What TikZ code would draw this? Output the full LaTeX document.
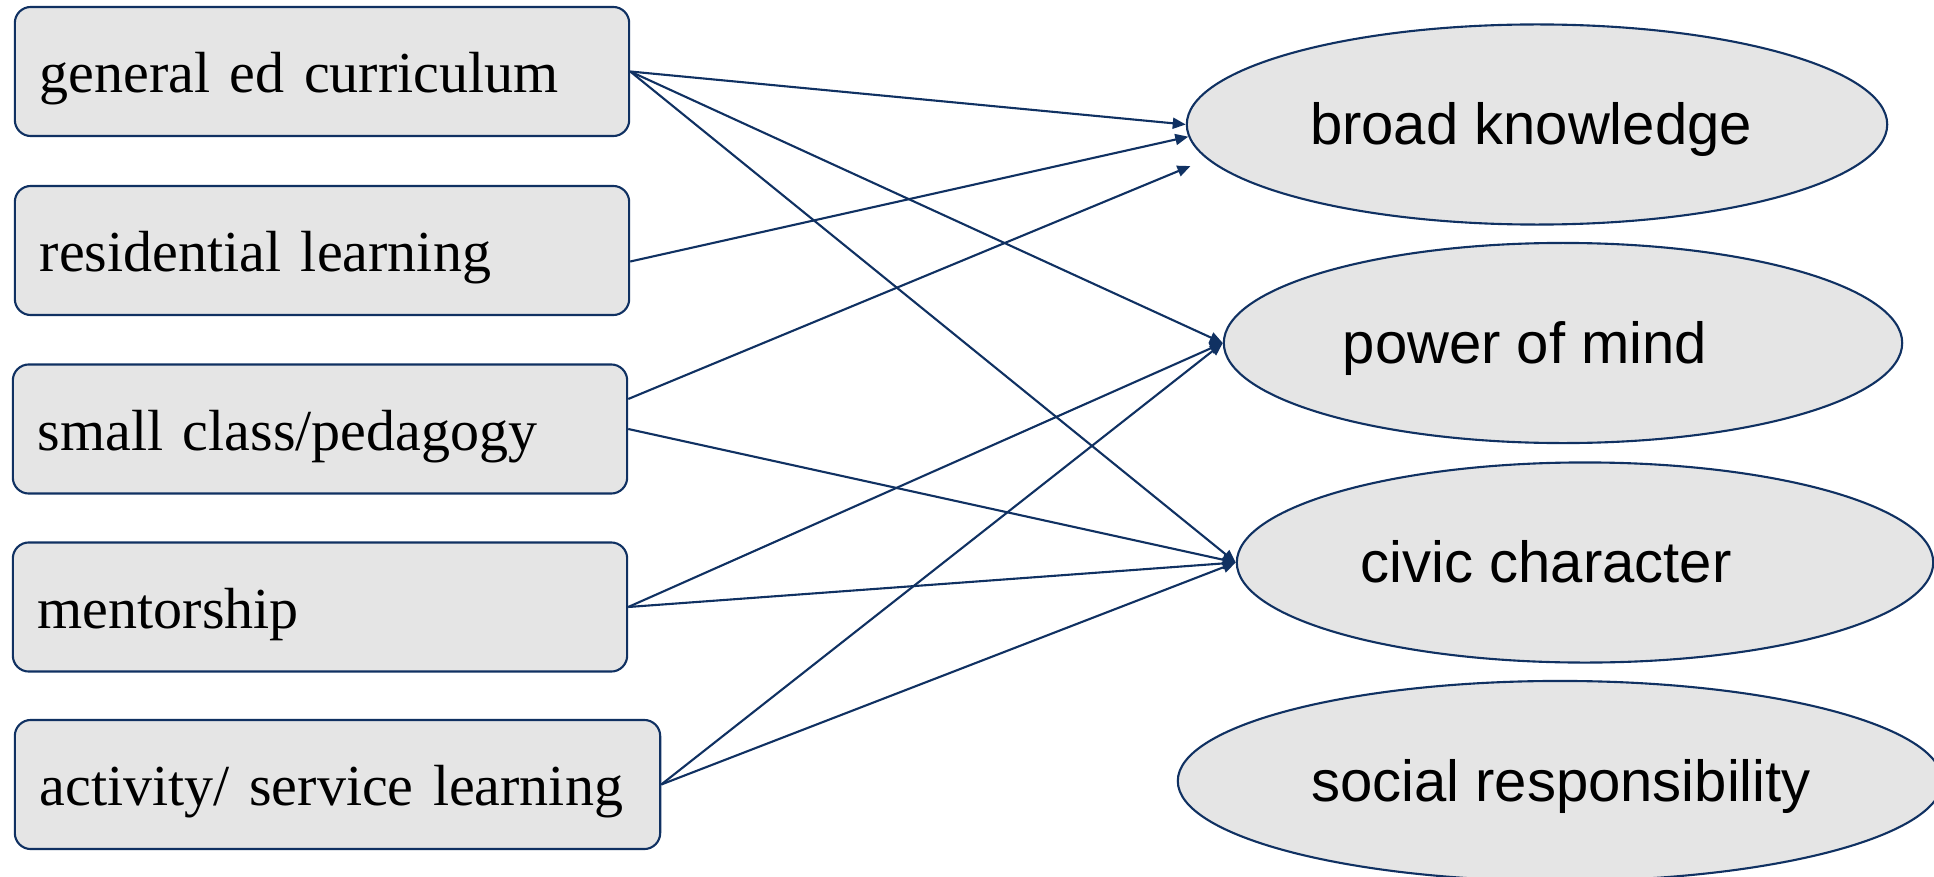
\documentclass[tikz,border=0pt]{standalone}
\usepackage{fontspec}
\setmainfont{Liberation Serif}
\setsansfont{Liberation Sans}
\usetikzlibrary{shapes.geometric,arrows.meta}

\definecolor{navy}{RGB}{16,49,98}
\definecolor{boxgray}{RGB}{229,229,229}

\tikzset{
  srcbox/.style={draw=navy, fill=boxgray, line width=0.6pt, rounded corners=0.16cm,
    minimum height=1.29cm, inner xsep=0.25cm, text width=5.64cm, align=left,
    text height=0.55cm, text depth=0.13cm, font=\fontsize{16.5}{20}\selectfont},
  goal/.style={draw=navy, fill=boxgray, line width=0.6pt, ellipse, inner sep=0pt,
    minimum height=2cm},
  goaltext/.style={inner sep=0pt, text height=0.55cm, text depth=0.15cm,
    font=\sffamily\fontsize{16.5}{20}\selectfont},
  link/.style={draw=navy, line width=0.6pt, -{Triangle[length=1.3mm,width=1.1mm]}}
}

\begin{document}
\begin{tikzpicture}[x=0.01cm, y=-0.01cm]
\clip (0,0) rectangle (1934,876);

% what the college does
\node[srcbox] (gen) at (322,71.5) {general ed curriculum};
\node[srcbox] (res) at (322,250.5) {residential learning};
\node[srcbox] (small) at (320,429) {small class/pedagogy};
\node[srcbox] (ment) at (320,607) {mentorship};
\node[srcbox, text width=5.95cm] (act) at (337.5,784.5) {activity/ service learning};

% what it aims at
\node[goal, minimum width=7cm] (bk) at (1537,124.5) {};
\node[goal, minimum width=6.78cm] (pm) at (1563,343) {};
\node[goal, minimum width=6.96cm] (cc) at (1585,562.5) {};
\node[goal, minimum width=7.64cm] (sr) at (1560,781) {};

\node[goaltext] (bktxt) at (1531,124.5) {broad knowledge};
\node[goaltext] (pmtxt) at (1525,343) {power of mind};
\node[goaltext] (cctxt) at (1546,562.5) {civic character};
\node[goaltext] (srtxt) at (1561,781) {social responsibility};

% links
\draw[link] (gen.east) -- (bk.west);
\draw[link] (gen.east) -- (pm.west);
\draw[link] (gen.east) -- (cc.west);
\draw[link] ([yshift=-0.11cm]res.east) -- (bk.182);
\draw[link, shorten >=0.18cm] ([yshift=0.3cm]small.east) -- (bk.186);
\draw[link] (small.east) -- (cc.west);
\draw[link] (ment.east) -- (pm.west);
\draw[link] (ment.east) -- (cc.west);
\draw[link] (act.east) -- (pm.west);
\draw[link] (act.east) -- (cc.west);
\end{tikzpicture}
\end{document}
